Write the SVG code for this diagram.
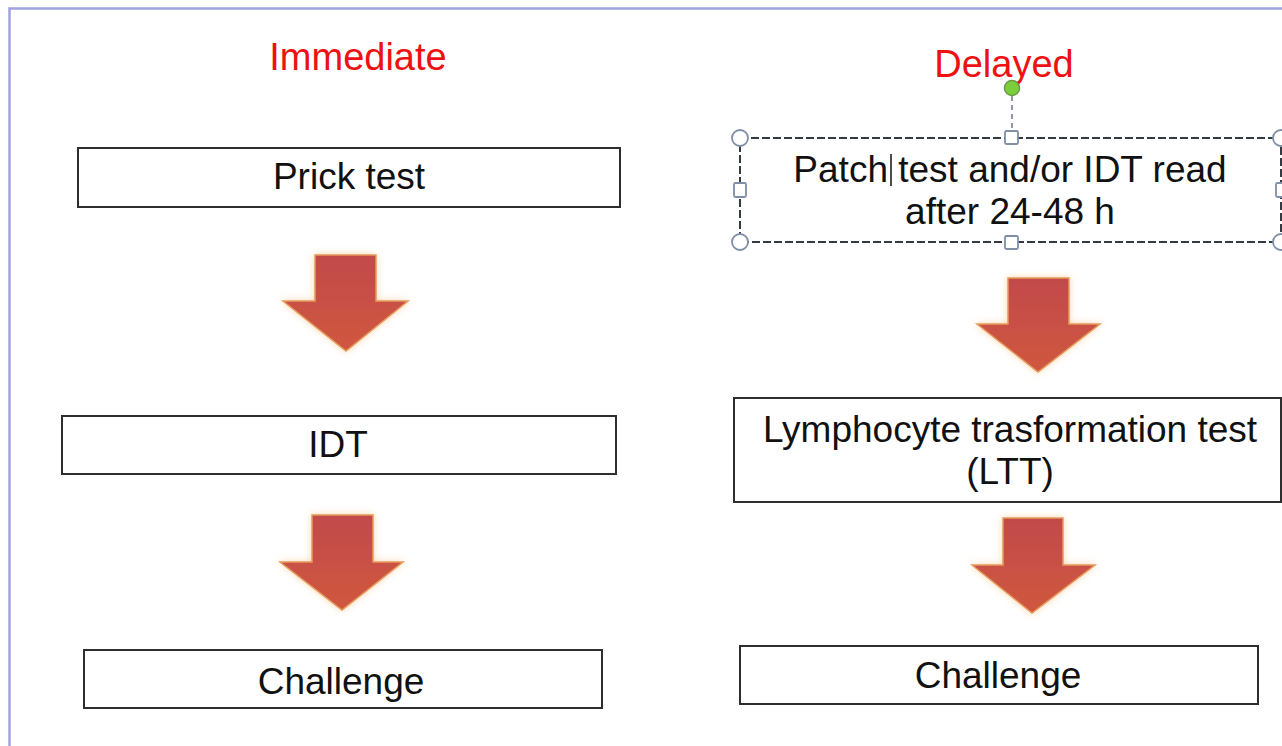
<svg xmlns="http://www.w3.org/2000/svg" width="1282" height="746" viewBox="0 0 1282 746">
  <defs>
    <style>
      .box { fill: #ffffff; stroke: #2e2e2e; stroke-width: 2; }
      .lbl { font-family: "Liberation Sans", Arial, sans-serif; font-size: 37px; fill: #111111; text-anchor: middle; }
      .head { font-family: "Liberation Sans", Arial, sans-serif; font-size: 38px; fill: #ee1111; text-anchor: middle; }
      .arrow { fill: url(#ag); stroke: #e79a5c; stroke-width: 1.5; filter: url(#glow); }
      .handle { fill: #ffffff; stroke: #7f8fa6; stroke-width: 1.8; }
    </style>
    <linearGradient id="ag" x1="0" y1="0" x2="0" y2="1">
      <stop offset="0" stop-color="#c24a4a"/>
      <stop offset="1" stop-color="#d0573f"/>
    </linearGradient>
    <filter id="glow" x="-20%" y="-20%" width="140%" height="140%">
      <feGaussianBlur in="SourceAlpha" stdDeviation="3.5" result="b"/>
      <feFlood flood-color="#f6b060" flood-opacity="0.5"/>
      <feComposite in2="b" operator="in" result="g"/>
      <feMerge><feMergeNode in="g"/><feMergeNode in="SourceGraphic"/></feMerge>
    </filter>
  </defs>
  <rect width="1282" height="746" fill="#ffffff"/>
  <path d="M9.5 746 V8.5 H1282" fill="none" stroke="#a0a2e2" stroke-width="2.5"/>

  <text class="head" x="358" y="70">Immediate</text>
  <text class="head" x="1004" y="77">Delayed</text>

  <g id="prick">
    <rect class="box" x="78" y="148" width="542" height="59"/>
    <text class="lbl" x="349" y="189">Prick test</text>
  </g>
  <g id="idt">
    <rect class="box" x="62" y="416" width="554" height="58"/>
    <text class="lbl" x="338" y="457">IDT</text>
  </g>
  <g id="challenge1">
    <rect class="box" x="84" y="650" width="518" height="58"/>
    <text class="lbl" x="341" y="694">Challenge</text>
  </g>

  <g id="patch">
    <rect x="740" y="138" width="541" height="104" fill="#ffffff" stroke="#333a42" stroke-width="2" stroke-dasharray="8 3"/>
    <text class="lbl" x="1010" y="182">Patch test and/or IDT read</text>
    <text class="lbl" x="1010" y="224">after 24-48 h</text>
    <line x1="891" y1="154" x2="891" y2="186" stroke="#111" stroke-width="1.5"/>
    <line x1="1012" y1="96" x2="1012" y2="131" stroke="#6a7a8a" stroke-width="1.5" stroke-dasharray="5 4"/>
    <circle cx="1012" cy="88" r="7.5" fill="#7ccf3a" stroke="#6a9a48" stroke-width="1.5"/>
    <circle class="handle" cx="740" cy="138" r="8"/>
    <circle class="handle" cx="1281" cy="138" r="8"/>
    <circle class="handle" cx="740" cy="242" r="8"/>
    <circle class="handle" cx="1281" cy="242" r="8"/>
    <rect class="handle" x="1005" y="131" width="13" height="13" rx="1.5"/>
    <rect class="handle" x="1005" y="236" width="13" height="13" rx="1.5"/>
    <rect class="handle" x="734" y="183" width="12" height="14" rx="1.5"/>
    <rect class="handle" x="1276" y="183" width="12" height="14" rx="1.5"/>
  </g>
  <g id="ltt">
    <rect class="box" x="734" y="398" width="547" height="104"/>
    <text class="lbl" x="1010" y="442">Lymphocyte trasformation test</text>
    <text class="lbl" x="1010" y="484">(LTT)</text>
  </g>
  <g id="challenge2">
    <rect class="box" x="740" y="646" width="518" height="58"/>
    <text class="lbl" x="998" y="688">Challenge</text>
  </g>

  <g id="connectors">
    <path class="arrow" d="M315 255 H376 V301 H408 L346 351 L283 301 H315 Z"/>
    <path class="arrow" d="M312 515 H373 V562 H403 L342 610 L280 562 H312 Z"/>
    <path class="arrow" d="M1008 278 H1069 V324 H1100 L1038 372 L977 324 H1008 Z"/>
    <path class="arrow" d="M1003 518 H1063 V565 H1095 L1032 613 L972 565 H1003 Z"/>
  </g>
</svg>
